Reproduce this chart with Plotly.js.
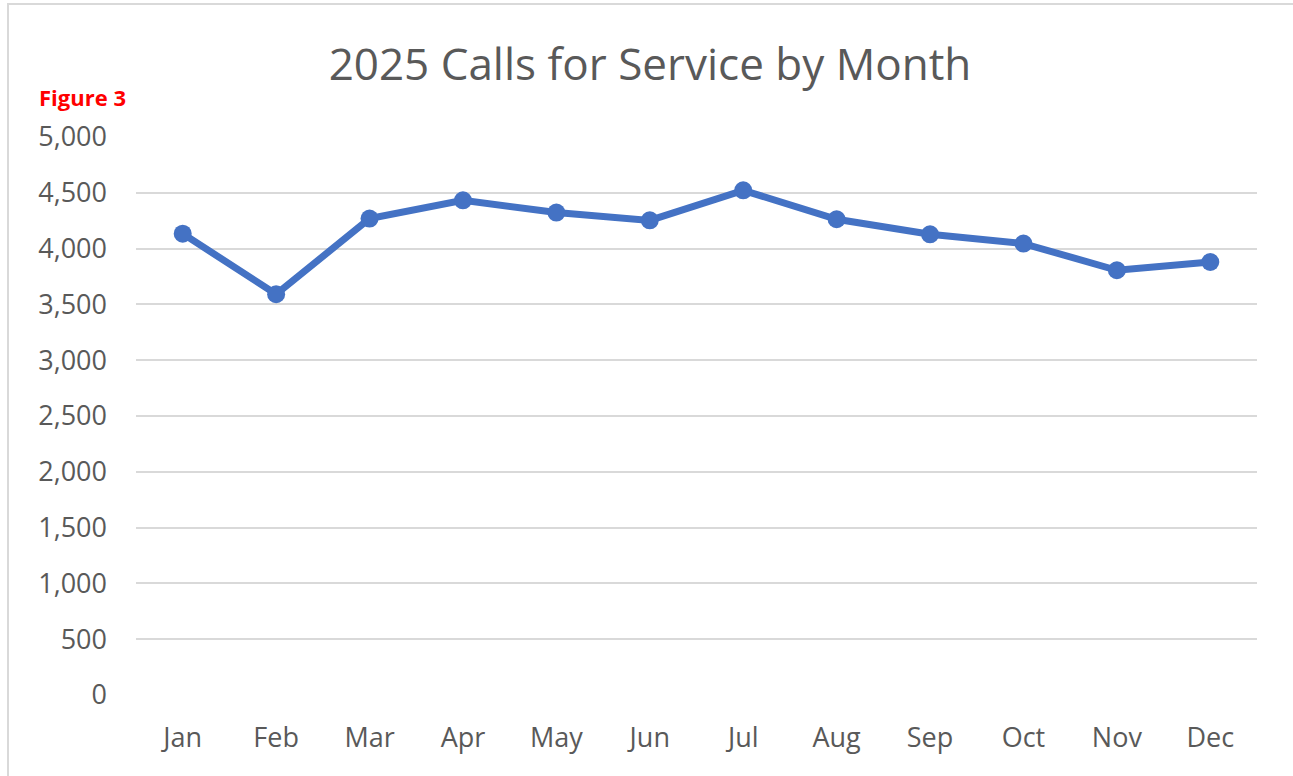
<!DOCTYPE html>
<html>
<head>
<meta charset="utf-8">
<script src="https://cdn.plot.ly/plotly-3.0.1.min.js"></script>
<style>
html,body{margin:0;padding:0;background:#fff;}
#wrap{position:relative;width:1293px;height:776px;}
#chart{position:absolute;left:0;top:0;width:1293px;height:776px;}
#frame{position:absolute;left:7px;top:3px;width:1300px;height:800px;border-left:2px solid #d9d9d9;border-top:2px solid #d9d9d9;pointer-events:none;}
</style>
</head>
<body>
<div id="wrap"><div id="chart"></div><div id="frame"></div></div>
<script>
const months = ["Jan","Feb","Mar","Apr","May","Jun","Jul","Aug","Sep","Oct","Nov","Dec"];
const calls = [4134, 3591, 4269, 4433, 4323, 4253, 4522, 4263, 4128, 4045, 3806, 3880];
const yTicks = [0,500,1000,1500,2000,2500,3000,3500,4000,4500,5000];
const yTickLabels = ["0","500","1,000","1,500","2,000","2,500","3,000","3,500","4,000","4,500","5,000"];
const chartTitle = "2025 Calls for Service by Month";
const figureLabel = "Figure 3";

const fontFam = "Open Sans, Noto Sans, sans-serif";
Plotly.newPlot("chart", [{
  x: months, y: calls, type: "scatter", mode: "lines+markers",
  line: {color: "#4472C4", width: 7},
  marker: {color: "#4472C4", size: 18},
  hoverinfo: "x+y"
}], {
  width: 1293, height: 776,
  margin: {l: 136, r: 36, t: 137, b: 81},
  paper_bgcolor: "#fff", plot_bgcolor: "#fff",
  showlegend: false,
  title: {text: chartTitle, x: 650/1293, xref: "container", xanchor: "center", y: 1 - 65/776, yanchor: "middle",
    font: {family: fontFam, size: 44, color: "#595959"}},
  xaxis: {type: "category", range: [-0.5, 11.5], showgrid: false, zeroline: false, showline: false,
    ticks: "", ticklabelstandoff: 24, tickfont: {family: fontFam, size: 27, color: "#595959"}, fixedrange: true},
  yaxis: {range: [0, 5000], tickvals: yTicks, ticktext: yTickLabels, showgrid: true, gridcolor: "#d9d9d9", gridwidth: 2,
    zeroline: false, showline: false, ticks: "", ticklabelstandoff: 28,
    tickfont: {family: fontFam, size: 27, color: "#595959"}, fixedrange: true},
  annotations: [{text: "<b>" + figureLabel + "</b>", xref: "paper", yref: "paper", x: -0.0883, y: 1.0717,
    xanchor: "left", yanchor: "middle", showarrow: false, font: {family: fontFam, size: 22, color: "#ff0000"}}]
}, {displayModeBar: false, staticPlot: true});
</script>
</body>
</html>
